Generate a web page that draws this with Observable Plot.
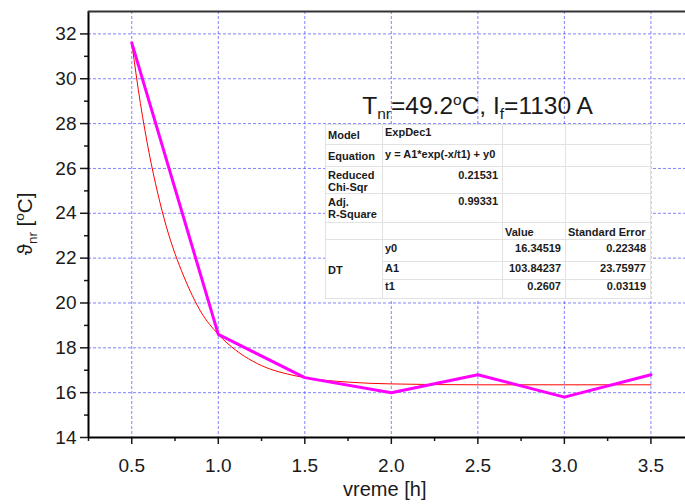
<!DOCTYPE html>
<html><head><meta charset="utf-8">
<script src="https://cdn.jsdelivr.net/npm/d3@7"></script>
<script src="https://cdn.jsdelivr.net/npm/@observablehq/plot@0.6"></script>
<style>
body{margin:0;background:#fff;}
#wrap{position:relative;width:685px;height:504px;overflow:hidden;}
#tbl{position:absolute;left:325px;top:124px;border-collapse:collapse;table-layout:fixed;background:#fff;
 font:bold 11px "Liberation Sans",Arial,sans-serif;color:#1a1a1a;border:1px solid #a0a0a0;}
#tbl td{border:1px solid #e2e2e2;padding:1px 2px 0 2px;vertical-align:top;line-height:12px;overflow:hidden;white-space:nowrap;}
#tbl td.c1{vertical-align:middle;padding-left:2px;}
#tbl td.r{text-align:right;padding-right:4px;}
#tbl td.m{vertical-align:middle;}
</style>
</head><body>
<div id="wrap"></div>
<script>
// observed data
const hours = [0.5, 1.0, 1.5, 2.0, 2.5, 3.0, 3.5];
const temps = [31.6, 18.6, 16.67, 16.0, 16.8, 15.8, 16.8];
// fitted curve
const fitHours = [0.5, 0.55, 0.6, 0.65, 0.7, 0.75, 0.8, 0.9, 1.0, 1.1, 1.2, 1.3, 1.4, 1.5, 1.75, 2.0, 2.5, 3.0, 3.5];
const fitTemps = [31.6, 28.9, 26.7, 24.9, 23.4, 22.2, 21.2, 19.6, 18.6, 17.9, 17.4, 17.05, 16.83, 16.67, 16.47, 16.39, 16.35, 16.35, 16.35];
// ticks
const xMajor = [0.5, 1.0, 1.5, 2.0, 2.5, 3.0, 3.5];
const xMinor = [0.25, 0.75, 1.25, 1.75, 2.25, 2.75, 3.25];
const yMajor = [14, 16, 18, 20, 22, 24, 26, 28, 30, 32];
const yMinor = [15, 17, 19, 21, 23, 25, 27, 29, 31];
// fit table
const tblModel = "ExpDec1";
const tblEquation = "y = A1*exp(-x/t1) + y0";
const tblChiSqr = "0.21531";
const tblAdjR2 = "0.99331";
const paramNames = ["y0", "A1", "t1"];
const paramValues = ["16.34519", "103.84237", "0.2607"];
const paramErrors = ["0.22348", "23.75977", "0.03119"];

const obs = hours.map((h, i) => ({x: h, y: temps[i]}));
const fit = fitHours.map((h, i) => ({x: h, y: fitTemps[i]}));

const gridStyle = {stroke: "#4040ff", strokeOpacity: 0.65, strokeDasharray: "3,2", strokeWidth: 1};
const font = "'Liberation Sans', Arial, sans-serif";

const chart = Plot.plot({
  width: 685, height: 504,
  marginLeft: 88, marginRight: 0, marginTop: 11, marginBottom: 67,
  x: {domain: [0.25, 3.70]},
  y: {domain: [14, 33]},
  style: {fontFamily: font, fontSize: "19px", color: "#1a1a1a", background: "#fff"},
  marks: [
    Plot.gridX(xMajor, gridStyle),
    Plot.gridY(yMajor.filter(d => d > 14), gridStyle),
    Plot.line(fit, {x: "x", y: "y", stroke: "#ff0000", strokeWidth: 1, curve: "monotone-x"}),
    Plot.line(obs, {x: "x", y: "y", stroke: "#ff00ff", strokeWidth: 3}),
    Plot.axisY(yMajor, {tickSize: 8, tickPadding: 4, fontSize: 19, label: null, tickFormat: d => d, strokeWidth: 1.5}),
    Plot.axisY(yMinor, {tickSize: 4, text: null, label: null, strokeWidth: 1.5}),
    Plot.axisX(xMajor, {tickSize: 7, tickPadding: 14, fontSize: 19, label: null, tickFormat: d3.format(".1f"), strokeWidth: 1.5}),
    Plot.axisX(xMinor, {tickSize: 4, text: null, label: null, strokeWidth: 1.5}),
    Plot.ruleX([0.25], {stroke: "#000", strokeWidth: 2}),
    Plot.ruleY([14], {stroke: "#000", strokeWidth: 2}),
    Plot.ruleY([33], {stroke: "#333", strokeWidth: 2})
  ]
});

const wrap = document.getElementById("wrap");
wrap.appendChild(chart);

const svg = d3.select(chart);
const sx = chart.scale("x"), sy = chart.scale("y");

// annotation title
const t = svg.append("text")
  .attr("x", sx.apply(1.835)).attr("y", sy.apply(28.4))
  .attr("text-anchor", "start")
  .attr("font-family", font).attr("font-size", 24.5).attr("fill", "#1a1a1a");
t.append("tspan").text("T");
t.append("tspan").attr("font-size", 15.5).attr("dy", 5).text("nr");
t.append("tspan").attr("dy", -5).text("=49.2");
t.append("tspan").attr("font-size", 15.5).attr("dy", -9).text("o");
t.append("tspan").attr("dy", 9).text("C, I");
t.append("tspan").attr("font-size", 15.5).attr("dy", 5).text("f");
t.append("tspan").attr("dy", -5).text("=1130 A");

// y label
const yl = svg.append("text")
  .attr("transform", `translate(32,${sy.apply(23.5)}) rotate(-90)`)
  .attr("text-anchor", "middle")
  .attr("font-family", font).attr("font-size", 20.5).attr("fill", "#1a1a1a");
yl.append("tspan").text("ϑ");
yl.append("tspan").attr("font-size", 13.5).attr("dy", 5).text("nr");
yl.append("tspan").attr("dy", -5).text(" [");
yl.append("tspan").attr("font-size", 13.5).attr("dy", -8).text("o");
yl.append("tspan").attr("dy", 8).text("C]");

// x label
svg.append("text")
  .attr("x", sx.apply(1.965)).attr("y", 496)
  .attr("text-anchor", "middle")
  .attr("font-family", font).attr("font-size", 20).attr("fill", "#1a1a1a")
  .text("vreme [h]");

// fit table
const tbl = document.createElement("table");
tbl.id = "tbl";
let html = `<colgroup><col style="width:57px"><col style="width:120px"><col style="width:63px"><col style="width:85px"></colgroup>`;
html += `<tr style="height:20px"><td class="c1">Model</td><td>${tblModel}</td><td></td><td></td></tr>`;
html += `<tr style="height:22px"><td class="c1">Equation</td><td style="padding-top:3px">${tblEquation}</td><td></td><td></td></tr>`;
html += `<tr style="height:26px"><td style="padding-top:2px">Reduced<br>Chi-Sqr</td><td class="r" style="padding-top:2px">${tblChiSqr}</td><td></td><td></td></tr>`;
html += `<tr style="height:29px"><td style="padding-top:2px">Adj.<br>R-Square</td><td class="r">${tblAdjR2}</td><td></td><td></td></tr>`;
html += `<tr style="height:17px"><td></td><td></td><td class="m">Value</td><td class="m">Standard Error</td></tr>`;
paramNames.forEach((p, i) => {
  const h = [22, 18, 19][i];
  html += `<tr style="height:${h}px">` + (i === 0 ? `<td class="c1" rowspan="3">DT</td>` : "") +
    `<td style="padding-top:${i === 0 ? 2 : 0}px">${p}</td><td class="r" style="padding-top:${i === 0 ? 2 : 0}px">${paramValues[i]}</td><td class="r" style="padding-top:${i === 0 ? 2 : 0}px">${paramErrors[i]}</td></tr>`;
});
tbl.innerHTML = html;
wrap.appendChild(tbl);
</script>
</body></html>
